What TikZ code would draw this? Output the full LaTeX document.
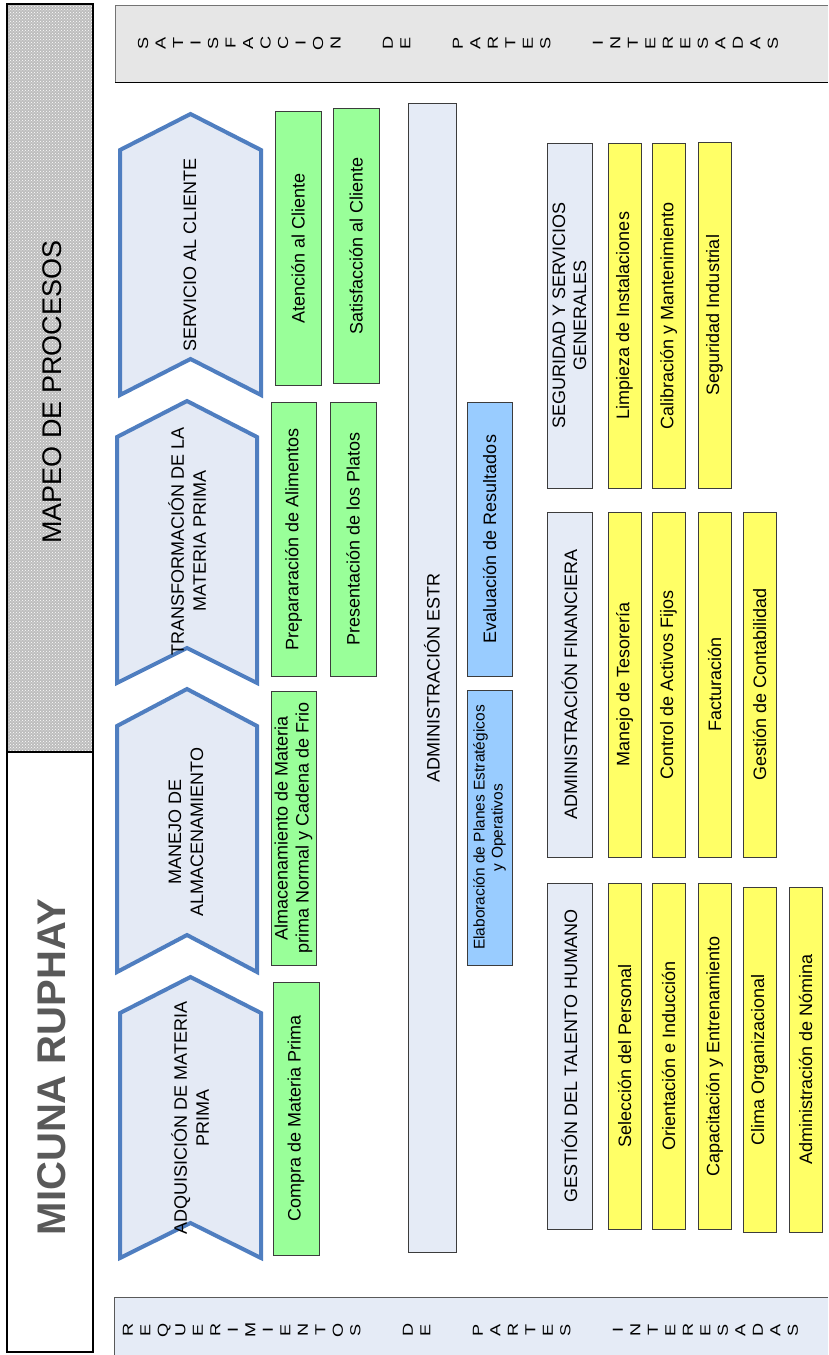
\documentclass[tikz,border=0pt]{standalone}
\usepackage{fontspec}
\setmainfont{Liberation Sans}
\newfontfamily\widefont[FakeStretch=1.25]{Liberation Sans}
\usetikzlibrary{patterns}

\definecolor{chevline}{HTML}{4F7EC0}
\definecolor{chevfill}{HTML}{E4EAF5}
\definecolor{headfill}{HTML}{E5EBF6}
\definecolor{topfill}{HTML}{E6E6E6}
\definecolor{boxgreen}{HTML}{99FF99}
\definecolor{boxblue}{HTML}{99CCFF}
\definecolor{boxyellow}{HTML}{FFFF66}
\definecolor{boxline}{HTML}{3C3C3C}
\definecolor{titlegray}{HTML}{595959}
\definecolor{dotgray}{HTML}{BDBDBD}

\begin{document}
\begin{tikzpicture}[x=1pt,y=-1pt,
  box/.style={rectangle, rotate=90, draw=boxline, line width=0.9pt, inner sep=2pt,
              align=center, font=\fontsize{18}{21}\selectfont},
  gbox/.style={box, fill=boxgreen},
  bbox/.style={box, fill=boxblue},
  ybox/.style={box, fill=boxyellow},
  hbox/.style={box, fill=headfill},
  chev/.style={draw=chevline, fill=chevfill, line width=4pt, line join=miter},
  chevtext/.style={rotate=90, align=center, font=\fontsize{18}{22}\selectfont},
  letters/.style={rotate=90, align=center, inner sep=0pt,
                  font=\widefont\fontsize{14.5}{17.5}\selectfont}
]
\useasboundingbox (0,0) rectangle (828,1355);
\fill[white] (0,0) rectangle (828,1355);

% left title column
\fill[white] (7,4) rectangle (93,1352);
\fill[dotgray] (7,4) rectangle (93,752);
\fill[pattern=crosshatch dots, pattern color=white] (7,4) rectangle (93,752);
\draw[line width=2pt] (7,4) rectangle (93,1352);
\draw[line width=2pt] (7,752) -- (93,752);
\node[rotate=90, font=\fontsize{27}{30}\selectfont] (mapeo) at (52,392) {MAPEO DE PROCESOS};
\node[rotate=90, text=titlegray, font=\fontsize{40}{44}\selectfont\bfseries] (micuna) at (52,1067) {MICUNA RUPHAY};

% top band
\fill[topfill] (115,5) rectangle (828,82);
\draw[black!55] (828,5) -- (115,5) -- (115,82);
\draw[black] (115,82) -- (828,82);
\node[letters] (ts1) at (239.25,43) {S\\A\\T\\I\\S\\F\\A\\C\\C\\I\\O\\N};
\node[letters] (ts2) at (396.75,43) {D\\E};
\node[letters] (ts3) at (501.75,43) {P\\A\\R\\T\\E\\S};
\node[letters] (ts4) at (685.5,43) {I\\N\\T\\E\\R\\E\\S\\A\\D\\A\\S};

% bottom band
\fill[headfill] (114,1297) rectangle (828,1355);
\draw[black!65] (828,1297) -- (114,1297) -- (114,1355);
\node[letters] (bs1) at (241.75,1330) {R\\E\\Q\\U\\E\\R\\I\\M\\I\\E\\N\\T\\O\\S};
\node[letters] (bs2) at (416.75,1330) {D\\E};
\node[letters] (bs3) at (521.75,1330) {P\\A\\R\\T\\E\\S};
\node[letters] (bs4) at (705.5,1330) {I\\N\\T\\E\\R\\E\\S\\A\\D\\A\\S};

% process chevrons
\draw[chev] (120,150) -- (190.5,114) -- (261,150) -- (261,395) -- (190.5,359) -- (120,395) -- cycle;
\draw[chev] (117,437) -- (187,401) -- (257,437) -- (257,683) -- (187,648) -- (117,683) -- cycle;
\draw[chev] (117,726) -- (187,689) -- (257,726) -- (257,972) -- (187,935) -- (117,972) -- cycle;
\draw[chev] (120,1013) -- (190.5,977) -- (261,1013) -- (261,1258) -- (190.5,1223) -- (120,1258) -- cycle;
\node[chevtext] (servicio) at (190,255) {SERVICIO AL CLIENTE};
\node[chevtext] (transf) at (187,541) {TRANSFORMACIÓN DE LA\\MATERIA PRIMA};
\node[chevtext] (manejo) at (186,832) {MANEJO DE\\ALMACENAMIENTO};
\node[chevtext] (adq) at (190,1118) {ADQUISICIÓN DE MATERIA\\PRIMA};

% green activity boxes
\node[gbox, minimum width=274, minimum height=46] (atc) at (298,248) {Atención al Cliente};
\node[gbox, minimum width=275, minimum height=46] (sat) at (356,245.5) {Satisfacción al Cliente};
\node[gbox, minimum width=274, minimum height=45] (prep) at (293.5,539) {Prepararación de Alimentos};
\node[gbox, minimum width=274, minimum height=46] (pres) at (353,539) {Presentación de los Platos};
\node[gbox, minimum width=274, minimum height=45] (alm) at (293.5,828) {Almacenamiento de Materia\\prima Normal y Cadena de Frio};
\node[gbox, minimum width=273, minimum height=46] (comp) at (296,1118.5) {Compra de Materia Prima};

% strategic administration
\node[hbox, minimum width=1149, minimum height=48] (adm) at (432,677.5) {ADMINISTRACIÓN ESTR};
\node[bbox, minimum width=274, minimum height=45] (eval) at (489.5,539) {Evaluación de Resultados};
\node[bbox, minimum width=275, minimum height=45, font=\fontsize{15.5}{18}\selectfont] (elab) at (489.5,827.5) {Elaboración de Planes Estratégicos\\y Operativos};

% support process headings
\node[hbox, minimum width=345, minimum height=45] (seg) at (569.5,315.5) {SEGURIDAD Y SERVICIOS\\GENERALES};
\node[hbox, minimum width=345, minimum height=45] (fin) at (569.5,684.5) {ADMINISTRACIÓN FINANCIERA};
\node[hbox, minimum width=346, minimum height=45] (ges) at (569.5,1056) {GESTIÓN DEL TALENTO HUMANO};

% support activities
\node[ybox, minimum width=345, minimum height=33] (lim) at (624.5,315.5) {Limpieza de Instalaciones};
\node[ybox, minimum width=345, minimum height=33] (cal) at (668.5,315.5) {Calibración y Mantenimiento};
\node[ybox, minimum width=346, minimum height=33] (segi) at (714.5,315) {Seguridad Industrial};

\node[ybox, minimum width=345, minimum height=33] (tes) at (624.5,684.5) {Manejo de Tesorería};
\node[ybox, minimum width=345, minimum height=33] (act) at (668.5,684.5) {Control de Activos Fijos};
\node[ybox, minimum width=345, minimum height=33] (fac) at (714.5,684.5) {Facturación};
\node[ybox, minimum width=345, minimum height=33] (con) at (759.5,684.5) {Gestión de Contabilidad};

\node[ybox, minimum width=346, minimum height=33] (sel) at (624.5,1056) {Selección del Personal};
\node[ybox, minimum width=346, minimum height=33] (ori) at (668.5,1056) {Orientación e Inducción};
\node[ybox, minimum width=346, minimum height=33] (cap) at (714.5,1056) {Capacitación y Entrenamiento};
\node[ybox, minimum width=345, minimum height=33] (cli) at (759.5,1059.5) {Clima Organizacional};
\node[ybox, minimum width=345, minimum height=33] (nom) at (805.5,1059.5) {Administración de Nómina};
\end{tikzpicture}
\end{document}
